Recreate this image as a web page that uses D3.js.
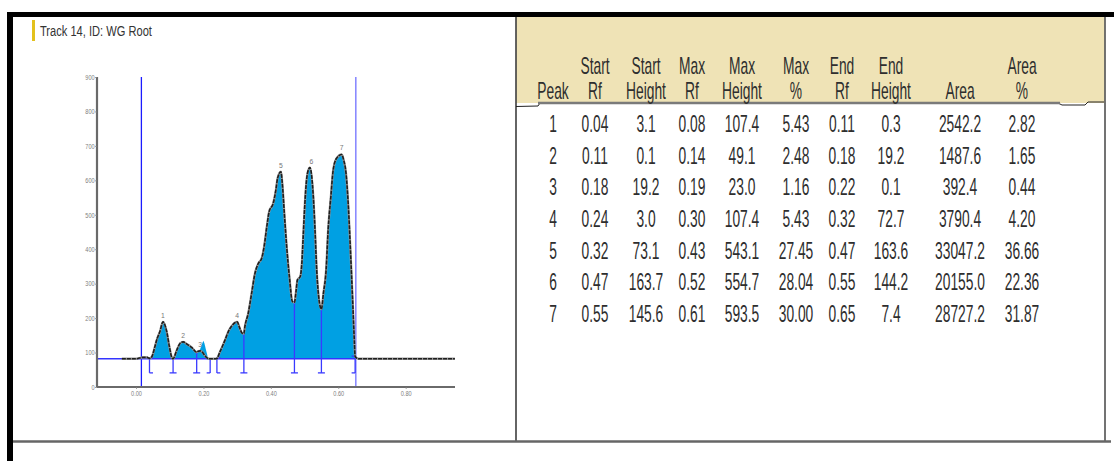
<!DOCTYPE html>
<html><head><meta charset="utf-8">
<script src="https://cdn.jsdelivr.net/npm/d3@7"></script>
<style>
html,body{margin:0;padding:0;background:#fff;}
svg{display:block;}
text{font-family:"Liberation Sans", Arial, Helvetica, sans-serif;}
</style></head><body>
<svg id="c" width="1114" height="461"></svg>
<script>
// ---- Track and peak report ----
const trackTitle = "Track 14, ID: WG Root";
const peaks       = [1, 2, 3, 4, 5, 6, 7];
const startRf     = [0.04, 0.11, 0.18, 0.24, 0.32, 0.47, 0.55];
const startHeight = [3.1, 0.1, 19.2, 3.0, 73.1, 163.7, 145.6];
const maxRf       = [0.08, 0.14, 0.19, 0.30, 0.43, 0.52, 0.61];
const maxHeight   = [107.4, 49.1, 23.0, 107.4, 543.1, 554.7, 593.5];
const maxPct      = [5.43, 2.48, 1.16, 5.43, 27.45, 28.04, 30.00];
const endRf       = [0.11, 0.18, 0.22, 0.32, 0.47, 0.55, 0.65];
const endHeight   = [0.3, 19.2, 0.1, 72.7, 163.6, 144.2, 7.4];
const area        = [2542.2, 1487.6, 392.4, 3790.4, 33047.2, 20155.0, 28727.2];
const areaPct     = [2.82, 1.65, 0.44, 4.20, 36.66, 22.36, 31.87];

// ---- Densitometric profile of the lane (Rf, intensity) ----
const baselineLevel = 82;
const originRf = 0.016;
const frontRf = 0.652;
const profileRf = [
  -0.042, 0.000, 0.020, 0.033, 0.040, 0.047, 0.056, 0.063, 0.071, 0.080,
  0.091, 0.099, 0.107, 0.110, 0.121, 0.131, 0.140, 0.150, 0.165, 0.180,
  0.185, 0.190, 0.196, 0.203, 0.209, 0.216, 0.220, 0.234, 0.240, 0.249,
  0.264, 0.274, 0.284, 0.300, 0.308, 0.315, 0.320, 0.323, 0.333, 0.343,
  0.353, 0.363, 0.373, 0.380, 0.388, 0.395, 0.407, 0.415, 0.420, 0.430,
  0.434, 0.440, 0.447, 0.455, 0.464, 0.470, 0.475, 0.479, 0.487, 0.492,
  0.496, 0.501, 0.506, 0.512, 0.516, 0.526, 0.531, 0.536, 0.543, 0.550,
  0.556, 0.564, 0.570, 0.578, 0.585, 0.595, 0.610, 0.616, 0.623, 0.630,
  0.637, 0.643, 0.6476, 0.650, 0.655, 0.660, 0.946
];
const profileValue = [
  82, 82, 86, 86, 83, 88, 117, 141, 161, 189,
  161, 117, 84, 82, 107, 127, 131, 125, 115, 101,
  104, 105, 102, 93, 86, 82, 82, 82, 83, 102,
  136, 161, 177, 189, 170, 156, 155, 175, 214, 272,
  330, 359, 374, 407, 465, 509, 533, 572, 606, 625,
  591, 504, 407, 320, 248, 246, 280, 311, 320, 359,
  436, 533, 601, 632, 637, 552, 456, 340, 253, 226,
  272, 340, 456, 552, 630, 664, 675, 659, 620, 523,
  378, 243, 136, 89, 84, 82, 82
];
// unsmoothed scan spike that shows through the fill near peak 3
const spikeRf    = [0.188, 0.197, 0.200, 0.203, 0.212];
const spikeValue = [104, 128, 134, 126, 90];

const yTicks = [0, 100, 200, 300, 400, 500, 600, 700, 800, 900];
const xTicks = [0, 0.2, 0.4, 0.6, 0.8];

const columnTop    = ["", "Start", "Start", "Max", "Max", "Max", "End", "End", "", "Area"];
const columnBottom = ["Peak", "Rf", "Height", "Rf", "Height", "%", "Rf", "Height", "Area", "%"];

// ---- drawing ----
const svg = d3.select("#c");
const INK = "#2e2e2e";

function squeezedText(parent, x, y, str, o) {
  const t = parent.append("text")
    .attr("transform", `translate(${x},${y}) scale(${o.sx},1)`)
    .attr("text-anchor", o.anchor || "middle")
    .attr("font-size", o.size)
    .attr("fill", o.fill || INK)
    .text(str);
  if (o.weight) t.attr("font-weight", o.weight);
  return t;
}

// Right panel background (report header)
svg.append("rect").attr("x", 516.5).attr("y", 17).attr("width", 588).attr("height", 86)
  .attr("fill", "#efe3b6");

// Frame
svg.append("rect").attr("x", 7).attr("y", 12).attr("width", 1107).attr("height", 5).attr("fill", "#000");
svg.append("rect").attr("x", 7).attr("y", 12).attr("width", 6).attr("height", 449).attr("fill", "#000");
svg.append("line").attr("x1", 516).attr("x2", 516).attr("y1", 17).attr("y2", 441)
  .attr("stroke", "#111").attr("stroke-width", 1.3);
svg.append("line").attr("x1", 1105).attr("x2", 1105).attr("y1", 17).attr("y2", 441)
  .attr("stroke", "#444").attr("stroke-width", 1.5);
svg.append("line").attr("x1", 13).attr("x2", 1111).attr("y1", 441.5).attr("y2", 441.5)
  .attr("stroke", "#666").attr("stroke-width", 2.5);

// Header rule under the column titles
svg.append("path")
  .attr("d", "M516,106.5 L538,106 L540,103 L1058,103 L1062,105 L1085,105 L1088,102 L1104,102")
  .attr("fill", "none").attr("stroke", "#222").attr("stroke-width", 1);
svg.append("line").attr("x1", 538).attr("x2", 1060).attr("y1", 103).attr("y2", 103)
  .attr("stroke", "#7a7a7a").attr("stroke-width", 2.4);

// Title
svg.append("rect").attr("x", 32).attr("y", 20).attr("width", 3).attr("height", 21).attr("fill", "#e3c11d");
const title = squeezedText(svg, 40, 35.5, trackTitle, {size: 14.5, sx: 1, anchor: "start", fill: "#333"});
{
  const w = title.node().getComputedTextLength();
  title.attr("transform", `translate(40,35.5) scale(${112 / w},1)`);
}

// ---- Table ----
const colX = [553, 595, 646, 692, 742, 796, 842, 891, 960, 1022];
const fmt2 = d3.format(".2f"), fmt1 = d3.format(".1f");
const tbl = svg.append("g");
const TS = 23, TX = 0.6;
columnTop.forEach((s, i) => { if (s) squeezedText(tbl, colX[i], 73.5, s, {size: TS, sx: TX}); });
columnBottom.forEach((s, i) => squeezedText(tbl, colX[i], 98.5, s, {size: TS, sx: TX}));

const rows = peaks.map((p, i) => [
  String(p), fmt2(startRf[i]), fmt1(startHeight[i]), fmt2(maxRf[i]), fmt1(maxHeight[i]),
  fmt2(maxPct[i]), fmt2(endRf[i]), fmt1(endHeight[i]), fmt1(area[i]), fmt2(areaPct[i])
]);
rows.forEach((r, ri) => {
  const y = 132 + ri * 31.67;
  r.forEach((s, ci) => squeezedText(tbl, colX[ci], y, s, {size: TS, sx: TX}));
});

// ---- Chart ----
const x = d3.scaleLinear().domain([-0.1157, 0.9463]).range([97, 455]);
const y = d3.scaleLinear().domain([0, 900]).range([387, 77]);
const chart = svg.append("g");

const profile = profileRf.map((r, i) => ({rf: r, v: profileValue[i]}));
const firstRf = startRf[0], lastRf = endRf[endRf.length - 1];
const peakZone = profile.filter(d => d.rf >= firstRf - 1e-9 && d.rf <= lastRf + 1e-9);
const FILL = "#00a0e3";

// filled peak area above the baseline
const areaGen = d3.area().curve(d3.curveMonotoneX)
  .x(d => x(d.rf)).y0(y(baselineLevel)).y1(d => y(d.v));
chart.append("path").datum(peakZone).attr("fill", FILL).attr("d", areaGen);
chart.append("path")
  .datum(spikeRf.map((r, i) => ({rf: r, v: spikeValue[i]})))
  .attr("fill", FILL)
  .attr("d", d3.area().curve(d3.curveLinear).x(d => x(d.rf)).y0(y(baselineLevel)).y1(d => y(d.v)));

// origin and solvent front
chart.append("line").attr("x1", x(originRf)).attr("x2", x(originRf)).attr("y1", y(900)).attr("y2", y(0))
  .attr("stroke", "#1b1bff").attr("stroke-width", 1.3);
chart.append("line").attr("x1", x(frontRf)).attr("x2", x(frontRf)).attr("y1", y(900)).attr("y2", y(0))
  .attr("stroke", "#8a8aff").attr("stroke-width", 1.6);

// baseline
chart.append("line").attr("x1", x.range()[0]).attr("x2", x(frontRf))
  .attr("y1", y(baselineLevel)).attr("y2", y(baselineLevel))
  .attr("stroke", "#3434ff").attr("stroke-width", 1.3);

// peak boundary markers
const markerFoot = 41;
const bounds = Array.from(new Set([...startRf, ...endRf])).sort(d3.ascending).map(rf => {
  const si = startRf.indexOf(rf), ei = endRf.indexOf(rf);
  const h = si >= 0 ? startHeight[si] : endHeight[ei];
  return {rf, top: baselineLevel + h, isStart: si >= 0, isEnd: ei >= 0};
});
const mk = chart.append("g").attr("stroke", "#3a3aff").attr("stroke-width", 1.3).attr("fill", "none");
bounds.forEach(b => {
  const bx = x(b.rf), yt = y(b.top), yb = y(markerFoot);
  mk.append("line").attr("x1", bx).attr("x2", bx).attr("y1", yt).attr("y2", yb);
  const l = b.isEnd ? -3.5 : 0, r = b.isStart ? 3.5 : 0;
  mk.append("line").attr("x1", bx + l).attr("x2", bx + r).attr("y1", yb).attr("y2", yb);
  if (!(b.isStart && b.isEnd)) {
    mk.append("line").attr("x1", bx + l).attr("x2", bx + r).attr("y1", yt).attr("y2", yt);
  }
});

// profile trace
const traceLine = d3.line().curve(d3.curveMonotoneX).x(d => x(d.rf)).y(d => y(d.v));
chart.append("path").datum(profile).attr("d", traceLine)
  .attr("fill", "none").attr("stroke", "#9a9a9a").attr("stroke-width", 2.3);
chart.append("path").datum(profile).attr("d", traceLine)
  .attr("fill", "none").attr("stroke", "#1e1e1e").attr("stroke-width", 1.6)
  .attr("stroke-dasharray", "4 1");

// peak numbers
peaks.forEach((p, i) => {
  squeezedText(chart, x(maxRf[i]), y(baselineLevel + maxHeight[i]) - 4, String(p),
    {size: 8, sx: 0.85, fill: "#777"});
});

// axes
const yAxis = chart.append("g").attr("transform", `translate(${x.range()[0]},0)`)
  .call(d3.axisLeft(y).tickValues(yTicks).tickSize(2).tickPadding(1).tickFormat(d3.format("d")));
const xAxis = chart.append("g").attr("transform", `translate(0,${y(0)})`)
  .call(d3.axisBottom(x).tickValues(xTicks).tickSize(2).tickPadding(2).tickFormat(d3.format(".2f")));
[yAxis, xAxis].forEach(a => {
  a.select(".domain").attr("stroke", "#6a6a6a").attr("stroke-width", 2.2);
  a.selectAll(".tick line").attr("stroke", "#888").attr("stroke-width", 0.8);
  a.selectAll(".tick text").attr("fill", "#808080").attr("font-size", 7)
    .attr("font-family", "Liberation Sans, Arial, sans-serif");
});
yAxis.select(".domain").attr("d", `M0,${y(0)}V${y(900)}`);
xAxis.select(".domain").attr("d", `M${x.range()[0]},0H${x.range()[1]}`);
yAxis.selectAll(".tick text").attr("transform", "scale(0.8,1)");
xAxis.selectAll(".tick text").attr("transform", "scale(0.8,1)");
</script>
</body></html>
